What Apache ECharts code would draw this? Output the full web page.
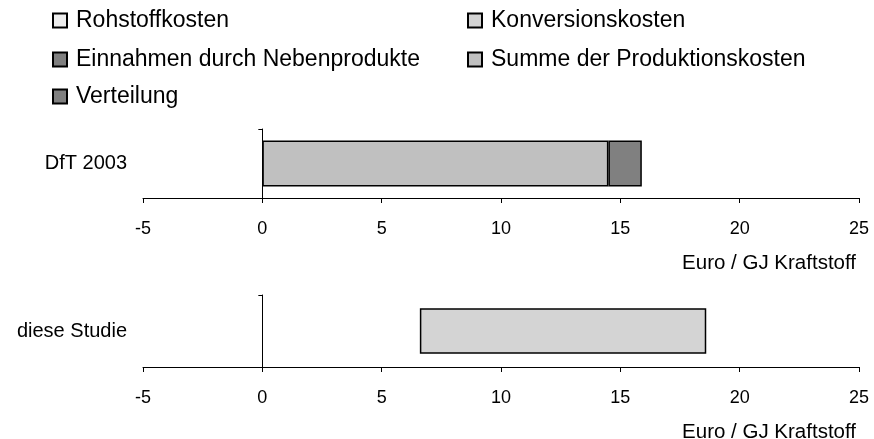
<!DOCTYPE html>
<html>
<head>
<meta charset="utf-8">
<script src="https://cdn.jsdelivr.net/npm/echarts@6/dist/echarts.min.js"></script>
<style>html,body{margin:0;padding:0;background:#fff}#c{width:874px;height:439px}</style>
</head>
<body>
<div id="c"></div>
<script>
// ---- data ----
const catTop = ['DfT 2003'];
const catBottom = ['diese Studie'];
const summeProduktion = [14.5];
const verteilung = [1.4];
const basisStudie = [6.6];        // unsichtbarer Versatz
const konversion = [12.0];
const rohstoff = [null];
const einnahmen = [null];
const axisTicks = { min: -5, max: 25, interval: 5 };
const axisTitle = 'Euro / GJ Kraftstoff';

const FONT = '"Liberation Sans", Arial, sans-serif';
const C = {
  Rohstoffkosten: '#eeeeee',
  Konversionskosten: '#d4d4d4',
  Einnahmen: '#808080',
  Summe: '#c0c0c0',
  Verteilung: '#808080'
};
const border = { borderColor: '#000', borderWidth: 1.5 };

function legend(name, left, top) {
  return {
    data: [name], left: left, top: top, padding: 0,
    icon: 'rect', itemWidth: 14, itemHeight: 14, selectedMode: false,
    textStyle: { fontFamily: FONT, fontSize: 23, color: '#000', padding: [0, 0, 0, 4] }
  };
}
function xAx(gi) {
  return {
    type: 'value', gridIndex: gi, min: axisTicks.min, max: axisTicks.max, interval: axisTicks.interval,
    splitLine: { show: false },
    axisLine: { show: true, lineStyle: { color: '#000', width: 1 } },
    axisTick: { show: true, length: 5, lineStyle: { color: '#000' } },
    axisLabel: { fontFamily: FONT, fontSize: 18, color: '#000', margin: 22 },
    name: axisTitle, nameLocation: 'end', nameGap: -3,
    nameTextStyle: { fontFamily: FONT, fontSize: 20.5, color: '#000', align: 'right', verticalAlign: 'top', padding: [55, 0, 0, 0] }
  };
}
function yAx(gi, data) {
  return {
    type: 'category', gridIndex: gi, data: data,
    axisLine: { show: true, onZero: true, lineStyle: { color: '#000', width: 1 } },
    axisTick: { show: true, length: 4, lineStyle: { color: '#000' } },
    axisLabel: { fontFamily: FONT, fontSize: 20, color: '#000', margin: 16 }
  };
}

const option = {
  animation: false,
  backgroundColor: '#fff',
  legend: [
    legend('Rohstoffkosten', 52, 9),
    legend('Konversionskosten', 467, 9),
    legend('Einnahmen durch Nebenprodukte', 52, 48),
    legend('Summe der Produktionskosten', 467, 48),
    legend('Verteilung', 52, 85)
  ],
  grid: [
    { left: 143, right: 15, top: 129, height: 69, containLabel: false, outerBoundsMode: 'none' },
    { left: 143, right: 15, top: 295, height: 72, containLabel: false, outerBoundsMode: 'none' }
  ],
  xAxis: [xAx(0), xAx(1)],
  yAxis: [yAx(0, catTop), yAx(1, catBottom)],
  series: [
    { name: 'Summe der Produktionskosten', type: 'bar', stack: 'a', xAxisIndex: 0, yAxisIndex: 0, barWidth: '67%',
      data: summeProduktion, itemStyle: Object.assign({ color: C.Summe }, border) },
    { name: 'Verteilung', type: 'bar', stack: 'a', xAxisIndex: 0, yAxisIndex: 0, barWidth: '67%',
      data: verteilung, itemStyle: Object.assign({ color: C.Verteilung }, border) },
    { name: 'Basis', type: 'bar', stack: 'b', xAxisIndex: 1, yAxisIndex: 1, barWidth: '63%',
      data: basisStudie, itemStyle: { color: 'rgba(0,0,0,0)' }, silent: true },
    { name: 'Konversionskosten', type: 'bar', stack: 'b', xAxisIndex: 1, yAxisIndex: 1, barWidth: '63%',
      data: konversion, itemStyle: Object.assign({ color: C.Konversionskosten }, border) },
    { name: 'Rohstoffkosten', type: 'bar', stack: 'b', xAxisIndex: 1, yAxisIndex: 1, barWidth: '63%',
      data: rohstoff, itemStyle: Object.assign({ color: C.Rohstoffkosten }, border) },
    { name: 'Einnahmen durch Nebenprodukte', type: 'bar', stack: 'b', xAxisIndex: 1, yAxisIndex: 1, barWidth: '63%',
      data: einnahmen, itemStyle: Object.assign({ color: C.Einnahmen }, border) }
  ]
};
const chart = echarts.init(document.getElementById('c'), null, { renderer: 'canvas' });
chart.setOption(option);
</script>
</body>
</html>
